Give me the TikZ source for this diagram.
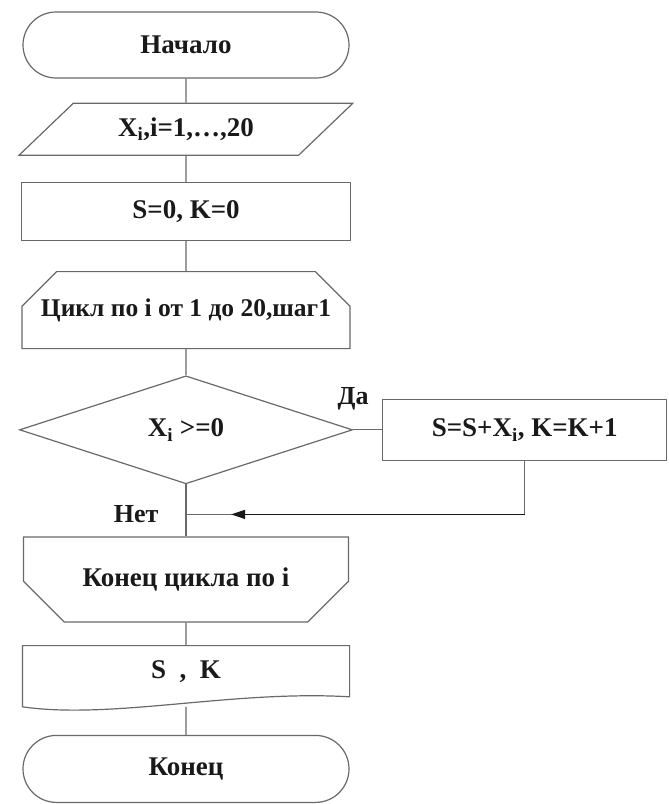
\documentclass[tikz,border=0pt]{standalone}
\usepackage{fontspec}
\setmainfont{Liberation Serif}
\usetikzlibrary{shapes.geometric,shapes.misc,arrows.meta,positioning,calc}
\definecolor{lineclr}{RGB}{105,105,105}
\definecolor{txtclr}{RGB}{25,25,25}
\tikzset{
  %% common outline of all blocks
  fblk/.style={draw=lineclr,line width=1.2pt,text=txtclr,align=center,
    font=\fontsize{27}{31}\selectfont\bfseries,inner sep=2pt},
  %% start / end oval
  term/.style={fblk,rounded rectangle,minimum width=330pt,minimum height=66pt},
  %% input parallelogram
  iopar/.style={fblk,trapezium,trapezium left angle=39,trapezium right angle=141,
    trapezium stretches=true,minimum width=334pt,minimum height=52pt},
  %% plain process box
  proc/.style={fblk,rectangle,minimum width=#1,minimum height=58pt},
  %% loop head / loop end
  lphead/.style={fblk,chamfered rectangle,chamfered rectangle corners={north west,north east},
    chamfered rectangle xsep=25pt,chamfered rectangle ysep=21pt,
    minimum width=328pt,minimum height=77pt},
  lpend/.style={fblk,chamfered rectangle,chamfered rectangle corners={south west,south east},
    chamfered rectangle xsep=34pt,chamfered rectangle ysep=27pt,
    minimum width=325pt,minimum height=85pt},
  %% condition
  cnd/.style={fblk,diamond,inner sep=0pt,minimum width=333pt,minimum height=108pt},
  %% output document (outline drawn by hand)
  docbox/.style={fblk,draw=none,rectangle,minimum width=326pt,minimum height=50pt},
  %% lines
  lnk/.style={draw=lineclr,line width=1.2pt},
  arr/.style={lnk,-{Triangle[length=14pt,width=9pt]},color=txtclr},
  lbl/.style={font=\fontsize{26}{30}\selectfont\bfseries,text=txtclr},
}
\begin{document}
\begin{tikzpicture}[x=1pt,y=-1pt]
  \useasboundingbox (0,0) rectangle (669,804);
  \node[term] (start) at (186,45) {Начало};
  \node[iopar,below=24pt of start]  (input) {X\textsubscript{i},i=1,…,20};
  \node[proc=329pt,below=26pt of input] (init)  {S=0, K=0};
  \node[lphead,font=\fontsize{25.5}{30}\selectfont\bfseries,below=30pt of init] (loop)
    {Цикл по i от 1 до 20,шаг1};
  \node[cnd,below=26pt of loop]     (cond)  {X\textsubscript{i} >=0};
  \node[proc=284pt,minimum height=61pt,right=29pt of cond] (add) {S=S+X\textsubscript{i}, K=K+1};
  \coordinate[below=30pt of cond.south] (join);
  \node[lpend,below=52pt of cond.south,anchor=north] (lend) {Конец цикла по i};
  \node[docbox,below=23pt of lend]  (out)   {S~~,~~K};
  \node[term,minimum height=67pt,below=38pt of out] (stop) {Конец};

  \draw[lnk] (out.south east) -- (out.north east) -- (out.north west)
    -- ([yshift=-10pt]out.south west)
    .. controls ($(out.south west)+(90,23)$) and ($(out.south east)+(-117,-7)$) .. (out.south east);

  \draw[lnk] (start) -- (input);
  \draw[lnk] (input) -- (init);
  \draw[lnk] (init) -- (loop);
  \draw[lnk] (loop) -- (cond);
  \draw[lnk] (cond.east) -- (add.west);
  \draw[lnk] (cond.south) -- (lend.north);
  \draw[lnk] (lend) -- (out);
  \draw[lnk] ([yshift=-10pt]out.south) -- (stop);
  \draw[lnk] (add.south) |- (join);
  \draw[arr] (join -| add.south) -- ([xshift=45pt]join);
  \node[lbl,above=16pt of cond.east] (yes) {Да};
  \node[lbl,left=24pt of join]       (no)  {Нет};
\end{tikzpicture}
\end{document}
